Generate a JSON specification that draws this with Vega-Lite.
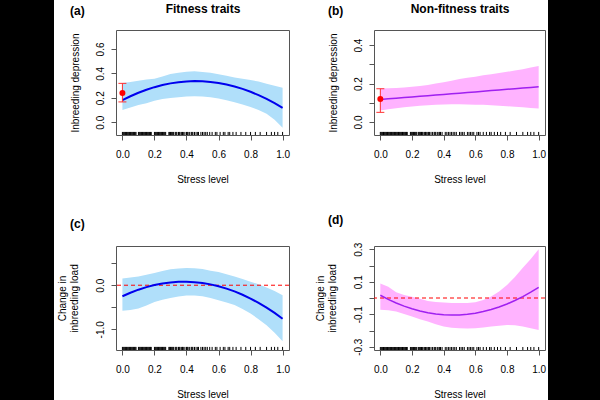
{
  "$schema": "https://vega.github.io/schema/vega-lite/v6.json",
  "padding": 0,
  "background": "white",
  "spacing": 2,
  "datasets": {
    "fitA": [
      {"x": 0, "lo": 0.10, "hi": 0.32, "fit": 0.18},
      {"x": 0.05, "lo": 0.12, "hi": 0.33, "fit": 0.2123},
      {"x": 0.1, "lo": 0.14, "hi": 0.34, "fit": 0.2408},
      {"x": 0.15, "lo": 0.155, "hi": 0.35, "fit": 0.2657},
      {"x": 0.2, "lo": 0.175, "hi": 0.355, "fit": 0.2868},
      {"x": 0.25, "lo": 0.19, "hi": 0.375, "fit": 0.3041},
      {"x": 0.3, "lo": 0.198, "hi": 0.395, "fit": 0.3178},
      {"x": 0.35, "lo": 0.205, "hi": 0.405, "fit": 0.3277},
      {"x": 0.4, "lo": 0.21, "hi": 0.413, "fit": 0.3338},
      {"x": 0.45, "lo": 0.212, "hi": 0.417, "fit": 0.3363},
      {"x": 0.5, "lo": 0.211, "hi": 0.412, "fit": 0.335},
      {"x": 0.55, "lo": 0.205, "hi": 0.405, "fit": 0.33},
      {"x": 0.6, "lo": 0.194, "hi": 0.393, "fit": 0.3212},
      {"x": 0.65, "lo": 0.18, "hi": 0.38, "fit": 0.3088},
      {"x": 0.7, "lo": 0.163, "hi": 0.366, "fit": 0.2926},
      {"x": 0.75, "lo": 0.145, "hi": 0.355, "fit": 0.2726},
      {"x": 0.8, "lo": 0.125, "hi": 0.345, "fit": 0.249},
      {"x": 0.85, "lo": 0.1, "hi": 0.333, "fit": 0.2216},
      {"x": 0.9, "lo": 0.07, "hi": 0.315, "fit": 0.1904},
      {"x": 0.95, "lo": 0.02, "hi": 0.298, "fit": 0.1556},
      {"x": 1, "lo": -0.046, "hi": 0.281, "fit": 0.117}
    ],
    "fitB": [
      {"x": 0, "lo": 0.06, "hi": 0.174, "fit": 0.117},
      {"x": 0.05, "lo": 0.066, "hi": 0.175, "fit": 0.1203},
      {"x": 0.1, "lo": 0.072, "hi": 0.177, "fit": 0.1236},
      {"x": 0.15, "lo": 0.076, "hi": 0.18, "fit": 0.1269},
      {"x": 0.2, "lo": 0.08, "hi": 0.183, "fit": 0.1302},
      {"x": 0.25, "lo": 0.084, "hi": 0.187, "fit": 0.1335},
      {"x": 0.3, "lo": 0.087, "hi": 0.192, "fit": 0.1368},
      {"x": 0.35, "lo": 0.089, "hi": 0.2, "fit": 0.1401},
      {"x": 0.4, "lo": 0.091, "hi": 0.207, "fit": 0.1434},
      {"x": 0.45, "lo": 0.092, "hi": 0.215, "fit": 0.1467},
      {"x": 0.5, "lo": 0.092, "hi": 0.224, "fit": 0.15},
      {"x": 0.55, "lo": 0.091, "hi": 0.23, "fit": 0.1533},
      {"x": 0.6, "lo": 0.09, "hi": 0.236, "fit": 0.1566},
      {"x": 0.65, "lo": 0.089, "hi": 0.243, "fit": 0.1599},
      {"x": 0.7, "lo": 0.087, "hi": 0.249, "fit": 0.1632},
      {"x": 0.75, "lo": 0.085, "hi": 0.255, "fit": 0.1665},
      {"x": 0.8, "lo": 0.082, "hi": 0.261, "fit": 0.1698},
      {"x": 0.85, "lo": 0.079, "hi": 0.268, "fit": 0.1731},
      {"x": 0.9, "lo": 0.076, "hi": 0.275, "fit": 0.1764},
      {"x": 0.95, "lo": 0.073, "hi": 0.284, "fit": 0.1797},
      {"x": 1, "lo": 0.07, "hi": 0.292, "fit": 0.183}
    ],
    "fitC": [
      {"x": 0, "lo": -0.58, "hi": 0.15, "fit": -0.25},
      {"x": 0.05, "lo": -0.56, "hi": 0.175, "fit": -0.1701},
      {"x": 0.1, "lo": -0.53, "hi": 0.2, "fit": -0.1012},
      {"x": 0.15, "lo": -0.46, "hi": 0.24, "fit": -0.0435},
      {"x": 0.2, "lo": -0.38, "hi": 0.28, "fit": 0.0032},
      {"x": 0.25, "lo": -0.33, "hi": 0.32, "fit": 0.0388},
      {"x": 0.3, "lo": -0.29, "hi": 0.36, "fit": 0.0632},
      {"x": 0.35, "lo": -0.255, "hi": 0.38, "fit": 0.0766},
      {"x": 0.4, "lo": -0.235, "hi": 0.39, "fit": 0.0788},
      {"x": 0.45, "lo": -0.235, "hi": 0.385, "fit": 0.07},
      {"x": 0.5, "lo": -0.25, "hi": 0.37, "fit": 0.05},
      {"x": 0.55, "lo": -0.29, "hi": 0.33, "fit": 0.019},
      {"x": 0.6, "lo": -0.34, "hi": 0.3, "fit": -0.0232},
      {"x": 0.65, "lo": -0.39, "hi": 0.25, "fit": -0.0765},
      {"x": 0.7, "lo": -0.45, "hi": 0.2, "fit": -0.1408},
      {"x": 0.75, "lo": -0.54, "hi": 0.14, "fit": -0.2163},
      {"x": 0.8, "lo": -0.64, "hi": 0.08, "fit": -0.3028},
      {"x": 0.85, "lo": -0.77, "hi": 0.02, "fit": -0.4005},
      {"x": 0.9, "lo": -0.91, "hi": -0.05, "fit": -0.5092},
      {"x": 0.95, "lo": -1.08, "hi": -0.13, "fit": -0.6291},
      {"x": 1, "lo": -1.27, "hi": -0.23, "fit": -0.76}
    ],
    "fitD": [
      {"x": 0, "lo": -0.072, "hi": 0.089, "fit": 0.017},
      {"x": 0.05, "lo": -0.075, "hi": 0.07, "fit": -0.0082},
      {"x": 0.1, "lo": -0.083, "hi": 0.035, "fit": -0.0305},
      {"x": 0.15, "lo": -0.098, "hi": 0.018, "fit": -0.0499},
      {"x": 0.2, "lo": -0.114, "hi": 0.008, "fit": -0.0663},
      {"x": 0.25, "lo": -0.13, "hi": -0.005, "fit": -0.0799},
      {"x": 0.3, "lo": -0.145, "hi": -0.018, "fit": -0.0905},
      {"x": 0.35, "lo": -0.162, "hi": -0.024, "fit": -0.0983},
      {"x": 0.4, "lo": -0.176, "hi": -0.028, "fit": -0.1031},
      {"x": 0.45, "lo": -0.183, "hi": -0.031, "fit": -0.105},
      {"x": 0.5, "lo": -0.186, "hi": -0.031, "fit": -0.104},
      {"x": 0.55, "lo": -0.187, "hi": -0.03, "fit": -0.1001},
      {"x": 0.6, "lo": -0.186, "hi": -0.026, "fit": -0.0933},
      {"x": 0.65, "lo": -0.182, "hi": -0.012, "fit": -0.0836},
      {"x": 0.7, "lo": -0.176, "hi": 0.01, "fit": -0.0709},
      {"x": 0.75, "lo": -0.17, "hi": 0.04, "fit": -0.0554},
      {"x": 0.8, "lo": -0.166, "hi": 0.08, "fit": -0.0369},
      {"x": 0.85, "lo": -0.168, "hi": 0.13, "fit": -0.0156},
      {"x": 0.9, "lo": -0.176, "hi": 0.186, "fit": 0.0087},
      {"x": 0.95, "lo": -0.186, "hi": 0.24, "fit": 0.0359},
      {"x": 1, "lo": -0.197, "hi": 0.3, "fit": 0.066}
    ],
    "ptA": [{"x": 0, "y": 0.24, "lo": 0.166, "hi": 0.318}],
    "ptB": [{"x": 0, "y": 0.12, "lo": 0.05, "hi": 0.173}],
    "zeroC": [{"y": 0}],
    "zeroD": [{"y": 0}],
    "barL": [{"x0": 0, "x1": 1, "y0": 0, "y1": 1}],
    "barR": [{"x0": 0, "x1": 1, "y0": 0, "y1": 1}],
    "gap": [{"side": "top"}],
    "rugF": [
      {"x": 0}, {"x": 0.005}, {"x": 0.01}, {"x": 0.015}, {"x": 0.02}, {"x": 0.025}, {"x": 0.03}, {"x": 0.035}, {"x": 0.04}, {"x": 0.045},
      {"x": 0.05}, {"x": 0.055}, {"x": 0.06}, {"x": 0.065}, {"x": 0.07}, {"x": 0.075}, {"x": 0.08}, {"x": 0.085}, {"x": 0.1}, {"x": 0.105},
      {"x": 0.11}, {"x": 0.115}, {"x": 0.12}, {"x": 0.125}, {"x": 0.13}, {"x": 0.135}, {"x": 0.14}, {"x": 0.145}, {"x": 0.15}, {"x": 0.155},
      {"x": 0.16}, {"x": 0.165}, {"x": 0.17}, {"x": 0.175}, {"x": 0.18}, {"x": 0.2}, {"x": 0.205}, {"x": 0.21}, {"x": 0.215}, {"x": 0.22},
      {"x": 0.225}, {"x": 0.23}, {"x": 0.235}, {"x": 0.24}, {"x": 0.245}, {"x": 0.25}, {"x": 0.255}, {"x": 0.26}, {"x": 0.265}, {"x": 0.27},
      {"x": 0.29}, {"x": 0.295}, {"x": 0.3}, {"x": 0.305}, {"x": 0.31}, {"x": 0.315}, {"x": 0.32}, {"x": 0.33}, {"x": 0.335}, {"x": 0.34},
      {"x": 0.35}, {"x": 0.355}, {"x": 0.36}, {"x": 0.37}, {"x": 0.375}, {"x": 0.38}, {"x": 0.39}, {"x": 0.4}, {"x": 0.405}, {"x": 0.41},
      {"x": 0.42}, {"x": 0.43}, {"x": 0.435}, {"x": 0.44}, {"x": 0.45}, {"x": 0.46}, {"x": 0.47}, {"x": 0.475}, {"x": 0.49}, {"x": 0.5},
      {"x": 0.51}, {"x": 0.52}, {"x": 0.53}, {"x": 0.545}, {"x": 0.56}, {"x": 0.58}, {"x": 0.59}, {"x": 0.61}, {"x": 0.63}, {"x": 0.64},
      {"x": 0.66}, {"x": 0.67}, {"x": 0.69}, {"x": 0.71}, {"x": 0.74}, {"x": 0.77}, {"x": 0.8}, {"x": 0.83}, {"x": 0.86}, {"x": 0.9},
      {"x": 0.93}, {"x": 0.95}, {"x": 0.97}, {"x": 1}
    ],
    "rugN": [
      {"x": 0}, {"x": 0.005}, {"x": 0.01}, {"x": 0.015}, {"x": 0.02}, {"x": 0.025}, {"x": 0.03}, {"x": 0.035}, {"x": 0.04}, {"x": 0.045},
      {"x": 0.05}, {"x": 0.055}, {"x": 0.06}, {"x": 0.065}, {"x": 0.07}, {"x": 0.075}, {"x": 0.08}, {"x": 0.085}, {"x": 0.09}, {"x": 0.095},
      {"x": 0.1}, {"x": 0.105}, {"x": 0.11}, {"x": 0.115}, {"x": 0.12}, {"x": 0.125}, {"x": 0.13}, {"x": 0.135}, {"x": 0.14}, {"x": 0.145},
      {"x": 0.15}, {"x": 0.155}, {"x": 0.16}, {"x": 0.165}, {"x": 0.17}, {"x": 0.19}, {"x": 0.195}, {"x": 0.2}, {"x": 0.205}, {"x": 0.21},
      {"x": 0.215}, {"x": 0.22}, {"x": 0.225}, {"x": 0.23}, {"x": 0.24}, {"x": 0.245}, {"x": 0.25}, {"x": 0.255}, {"x": 0.26}, {"x": 0.265},
      {"x": 0.27}, {"x": 0.28}, {"x": 0.285}, {"x": 0.29}, {"x": 0.3}, {"x": 0.305}, {"x": 0.31}, {"x": 0.32}, {"x": 0.33}, {"x": 0.34},
      {"x": 0.345}, {"x": 0.35}, {"x": 0.36}, {"x": 0.37}, {"x": 0.375}, {"x": 0.38}, {"x": 0.39}, {"x": 0.41}, {"x": 0.42}, {"x": 0.43},
      {"x": 0.44}, {"x": 0.45}, {"x": 0.46}, {"x": 0.47}, {"x": 0.48}, {"x": 0.5}, {"x": 0.51}, {"x": 0.52}, {"x": 0.53}, {"x": 0.55},
      {"x": 0.56}, {"x": 0.57}, {"x": 0.58}, {"x": 0.59}, {"x": 0.61}, {"x": 0.62}, {"x": 0.63}, {"x": 0.65}, {"x": 0.67}, {"x": 0.69},
      {"x": 0.7}, {"x": 0.72}, {"x": 0.74}, {"x": 0.76}, {"x": 0.79}, {"x": 0.82}, {"x": 0.86}, {"x": 0.9}, {"x": 0.93}, {"x": 0.95},
      {"x": 0.97}, {"x": 1}
    ]
  },
  "hconcat": [
    {
      "name": "leftbar",
      "width": 54, "height": 400,
      "data": {"name": "barL"},
      "mark": {"type": "rect", "color": "black"},
      "encoding": {
        "x": {"field": "x0", "type": "quantitative", "scale": {"domain": [0, 1], "nice": false}, "axis": null},
        "x2": {"field": "x1"},
        "y": {"field": "y0", "type": "quantitative", "scale": {"domain": [0, 1], "nice": false}, "axis": null},
        "y2": {"field": "y1"}
      },
      "view": {"fill": "black", "stroke": null}
    },
    {
      "name": "middle",
      "spacing": 1,
      "hconcat": [
        {
          "name": "maincol",
          "spacing": 0,
          "vconcat": [
            {
              "name": "topgap",
              "width": 1, "height": 1,
              "data": {"name": "gap"},
              "mark": {"type": "rect", "opacity": 0},
              "view": {"stroke": null}
            },
            {
              "name": "grid",
              "columns": 2,
              "bounds": "flush",
              "spacing": {"row": 111, "column": 85},
              "concat": [
                {
                  "name": "pa",
                  "width": 173, "height": 105,
                  "title": {"text": "(a)", "dx": -46, "offset": -16},
                  "resolve": {"axis": {"x": "independent", "y": "independent"}},
                  "layer": [
                    {"data": {"name": "fitA"}, "mark": {"type": "area", "color": "#B0DFFA", "opacity": 1},
                     "encoding": {
                       "x": {"field": "x", "type": "quantitative", "scale": {"domain": [-0.04, 1.04], "nice": false, "zero": false}, "axis": {"values": [0, 0.2, 0.4, 0.6, 0.8, 1], "format": ".1f", "title": "Stress level"}},
                       "y": {"field": "lo", "type": "quantitative", "scale": {"domain": [-0.105, 0.755], "nice": false, "zero": false}, "axis": {"values": [0, 0.2, 0.4, 0.6], "format": ".1f", "title": "Inbreeding depression", "titleX": -41, "titleBaseline": "middle", "titleAlign": "center"}},
                       "y2": {"field": "hi"}}},
                    {"data": {"name": "rugF"}, "mark": {"type": "rule", "color": "black", "strokeWidth": 1},
                     "encoding": {"x": {"field": "x", "type": "quantitative", "axis": null}, "y": {"datum": -0.105, "type": "quantitative", "axis": null}, "y2": {"datum": -0.08}}},
                    {"data": {"name": "fitA"}, "mark": {"type": "line", "color": "#0000EE", "strokeWidth": 2},
                     "encoding": {"x": {"field": "x", "type": "quantitative", "axis": {"orient": "top", "title": "Fitness traits", "labels": false, "ticks": false, "domain": false, "titleFontWeight": "bold", "titleFontSize": 12, "titlePadding": 15}}, "y": {"field": "fit", "type": "quantitative", "axis": null}}},
                    {"data": {"name": "ptA"}, "mark": {"type": "rule", "color": "#FF3030"},
                     "encoding": {"x": {"field": "x", "type": "quantitative", "axis": null}, "y": {"field": "lo", "type": "quantitative", "axis": null}, "y2": {"field": "hi"}}},
                    {"data": {"name": "ptA"}, "mark": {"type": "tick", "orient": "horizontal", "color": "#FF3030", "size": 8, "thickness": 1, "opacity": 1},
                     "encoding": {"x": {"field": "x", "type": "quantitative", "axis": null}, "y": {"field": "lo", "type": "quantitative", "axis": null}}},
                    {"data": {"name": "ptA"}, "mark": {"type": "tick", "orient": "horizontal", "color": "#FF3030", "size": 8, "thickness": 1, "opacity": 1},
                     "encoding": {"x": {"field": "x", "type": "quantitative", "axis": null}, "y": {"field": "hi", "type": "quantitative", "axis": null}}},
                    {"data": {"name": "ptA"}, "mark": {"type": "point", "filled": true, "color": "#FF0000", "opacity": 1, "size": 36},
                     "encoding": {"x": {"field": "x", "type": "quantitative", "axis": null}, "y": {"field": "y", "type": "quantitative", "axis": null}}}
                  ]
                },
                {
                  "name": "pb",
                  "width": 171, "height": 105,
                  "title": {"text": "(b)", "dx": -46, "offset": -16},
                  "resolve": {"axis": {"x": "independent", "y": "independent"}},
                  "layer": [
                    {"data": {"name": "fitB"}, "mark": {"type": "area", "color": "#FFB3FF", "opacity": 1},
                     "encoding": {
                       "x": {"field": "x", "type": "quantitative", "scale": {"domain": [-0.04, 1.04], "nice": false, "zero": false}, "axis": {"values": [0, 0.2, 0.4, 0.6, 0.8, 1], "format": ".1f", "title": "Stress level"}},
                       "y": {"field": "lo", "type": "quantitative", "scale": {"domain": [-0.068, 0.479], "nice": false, "zero": false}, "axis": {"values": [0, 0.1, 0.2, 0.3, 0.4], "labelExpr": "datum.value == 0.1 || datum.value == 0.3 ? '' : format(datum.value, '.1f')", "title": "Inbreeding depression", "titleX": -41, "titleBaseline": "middle", "titleAlign": "center"}},
                       "y2": {"field": "hi"}}},
                    {"data": {"name": "rugN"}, "mark": {"type": "rule", "color": "black", "strokeWidth": 1},
                     "encoding": {"x": {"field": "x", "type": "quantitative", "axis": null}, "y": {"datum": -0.068, "type": "quantitative", "axis": null}, "y2": {"datum": -0.052}}},
                    {"data": {"name": "fitB"}, "mark": {"type": "line", "color": "#A020F0", "strokeWidth": 1.5},
                     "encoding": {"x": {"field": "x", "type": "quantitative", "axis": {"orient": "top", "title": "Non-fitness traits", "labels": false, "ticks": false, "domain": false, "titleFontWeight": "bold", "titleFontSize": 12, "titlePadding": 15}}, "y": {"field": "fit", "type": "quantitative", "axis": null}}},
                    {"data": {"name": "ptB"}, "mark": {"type": "rule", "color": "#FF3030"},
                     "encoding": {"x": {"field": "x", "type": "quantitative", "axis": null}, "y": {"field": "lo", "type": "quantitative", "axis": null}, "y2": {"field": "hi"}}},
                    {"data": {"name": "ptB"}, "mark": {"type": "tick", "orient": "horizontal", "color": "#FF3030", "size": 8, "thickness": 1, "opacity": 1},
                     "encoding": {"x": {"field": "x", "type": "quantitative", "axis": null}, "y": {"field": "lo", "type": "quantitative", "axis": null}}},
                    {"data": {"name": "ptB"}, "mark": {"type": "tick", "orient": "horizontal", "color": "#FF3030", "size": 8, "thickness": 1, "opacity": 1},
                     "encoding": {"x": {"field": "x", "type": "quantitative", "axis": null}, "y": {"field": "hi", "type": "quantitative", "axis": null}}},
                    {"data": {"name": "ptB"}, "mark": {"type": "point", "filled": true, "color": "#FF0000", "opacity": 1, "size": 36},
                     "encoding": {"x": {"field": "x", "type": "quantitative", "axis": null}, "y": {"field": "y", "type": "quantitative", "axis": null}}}
                  ]
                },
                {
                  "name": "pc",
                  "width": 173, "height": 104,
                  "title": {"text": "(c)", "dx": -46, "offset": 15},
                  "resolve": {"axis": {"x": "independent", "y": "independent"}},
                  "layer": [
                    {"data": {"name": "fitC"}, "mark": {"type": "area", "color": "#B0DFFA", "opacity": 1},
                     "encoding": {
                       "x": {"field": "x", "type": "quantitative", "scale": {"domain": [-0.04, 1.04], "nice": false, "zero": false}, "axis": {"values": [0, 0.2, 0.4, 0.6, 0.8, 1], "format": ".1f", "title": "Stress level"}},
                       "y": {"field": "lo", "type": "quantitative", "scale": {"domain": [-1.47, 0.89], "nice": false, "zero": false}, "axis": {"values": [-1, -0.5, 0, 0.5], "labelExpr": "datum.value == -1 ? '-1.0' : datum.value == 0 ? '0.0' : ''", "title": ["Change in", "inbreeding load"], "titleX": -54, "titleBaseline": "middle", "titleAlign": "center", "titleLineHeight": 12}},
                       "y2": {"field": "hi"}}},
                    {"data": {"name": "rugF"}, "mark": {"type": "rule", "color": "black", "strokeWidth": 1},
                     "encoding": {"x": {"field": "x", "type": "quantitative", "axis": null}, "y": {"datum": -1.47, "type": "quantitative", "axis": null}, "y2": {"datum": -1.4}}},
                    {"data": {"name": "zeroC"}, "mark": {"type": "rule", "stroke": "#FF0000", "strokeWidth": 1, "strokeDash": [4, 3]},
                     "encoding": {"y": {"field": "y", "type": "quantitative", "axis": null}}},
                    {"data": {"name": "fitC"}, "mark": {"type": "line", "color": "#0000EE", "strokeWidth": 2},
                     "encoding": {"x": {"field": "x", "type": "quantitative", "axis": null}, "y": {"field": "fit", "type": "quantitative", "axis": null}}}
                  ]
                },
                {
                  "name": "pd",
                  "width": 171, "height": 104,
                  "title": {"text": "(d)", "dx": -46, "offset": 15},
                  "resolve": {"axis": {"x": "independent", "y": "independent"}},
                  "layer": [
                    {"data": {"name": "fitD"}, "mark": {"type": "area", "color": "#FFB3FF", "opacity": 1},
                     "encoding": {
                       "x": {"field": "x", "type": "quantitative", "scale": {"domain": [-0.04, 1.04], "nice": false, "zero": false}, "axis": {"values": [0, 0.2, 0.4, 0.6, 0.8, 1], "format": ".1f", "title": "Stress level"}},
                       "y": {"field": "lo", "type": "quantitative", "scale": {"domain": [-0.32, 0.32], "nice": false, "zero": false}, "axis": {"values": [-0.3, -0.2, -0.1, 0, 0.1, 0.2, 0.3], "labelExpr": "datum.value == -0.3 ? '-0.3' : datum.value == -0.1 ? '-0.1' : datum.value == 0.1 ? '0.1' : datum.value == 0.3 ? '0.3' : ''", "title": ["Change in", "inbreeding load"], "titleX": -54, "titleBaseline": "middle", "titleAlign": "center", "titleLineHeight": 12}},
                       "y2": {"field": "hi"}}},
                    {"data": {"name": "rugN"}, "mark": {"type": "rule", "color": "black", "strokeWidth": 1},
                     "encoding": {"x": {"field": "x", "type": "quantitative", "axis": null}, "y": {"datum": -0.32, "type": "quantitative", "axis": null}, "y2": {"datum": -0.3015}}},
                    {"data": {"name": "zeroD"}, "mark": {"type": "rule", "stroke": "#FF0000", "strokeWidth": 1, "strokeDash": [4, 3]},
                     "encoding": {"y": {"field": "y", "type": "quantitative", "axis": null}}},
                    {"data": {"name": "fitD"}, "mark": {"type": "line", "color": "#A020F0", "strokeWidth": 1.5},
                     "encoding": {"x": {"field": "x", "type": "quantitative", "axis": null}, "y": {"field": "fit", "type": "quantitative", "axis": null}}}
                  ]
                }
              ]
            }
          ]
        },
        {
          "name": "rightbar",
          "width": 55, "height": 400,
          "data": {"name": "barR"},
          "mark": {"type": "rect", "color": "black"},
          "encoding": {
            "x": {"field": "x0", "type": "quantitative", "scale": {"domain": [0, 1], "nice": false}, "axis": null},
            "x2": {"field": "x1"},
            "y": {"field": "y0", "type": "quantitative", "scale": {"domain": [0, 1], "nice": false}, "axis": null},
            "y2": {"field": "y1"}
          },
          "view": {"fill": "black", "stroke": null}
        }
      ]
    }
  ],
  "config": {
    "font": "Liberation Sans",
    "view": {"stroke": "#555555", "strokeWidth": 1},
    "title": {"font": "Liberation Sans", "fontSize": 12, "fontWeight": "bold", "color": "black", "anchor": "start", "frame": "group"},
    "axis": {"domain": false, "grid": false, "tickColor": "#555555", "tickSize": 5, "tickWidth": 1, "labelFont": "Liberation Sans", "labelFontSize": 10, "labelColor": "black", "labelFlush": false, "labelOverlap": false, "titleFont": "Liberation Sans", "titleFontSize": 10, "titleFontWeight": "normal", "titleColor": "black", "labelPadding": 9, "titlePadding": 15},
    "axisY": {"labelAngle": -90, "labelAlign": "center", "labelBaseline": "bottom", "labelPadding": 6}
  }
}
